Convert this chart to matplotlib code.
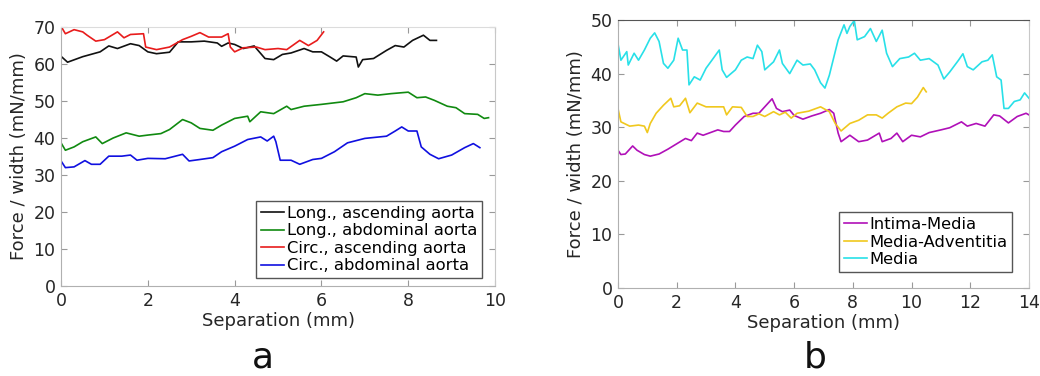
import matplotlib.pyplot as plt

# ---- panel a: peel force per width vs separation ----
long_asc_x = [0, 0.15, 0.5, 0.9, 1.1, 1.3, 1.6, 1.8, 2.0, 2.2, 2.5, 2.7, 3.0, 3.3, 3.6, 3.7, 3.85,
              4.0, 4.2, 4.45, 4.7, 4.9, 5.1, 5.3, 5.6, 5.8, 6.0, 6.2, 6.35, 6.5, 6.8, 6.85, 6.95,
              7.2, 7.5, 7.7, 7.9, 8.1, 8.35, 8.5, 8.65]
long_asc_y = [62.1, 60.5, 62, 63.3, 64.9, 64.2, 65.5, 65, 63.3, 62.8, 63.2, 66, 66, 66.2, 65.7, 64.8, 65.7,
              65.3, 64.2, 64.9, 61.5, 61.2, 62.6, 63, 64.2, 63.3, 63.3, 61.9, 60.8, 62.2, 61.9, 59.2, 61.2,
              61.5, 63.7, 65, 64.6, 66.4, 67.8, 66.4, 66.4]

long_abd_x = [0, 0.1, 0.3, 0.5, 0.8, 0.95, 1.2, 1.5, 1.8, 2.0, 2.3, 2.5, 2.8, 3.0, 3.2, 3.5, 3.7, 4.0,
              4.3, 4.35, 4.6, 4.9, 5.2, 5.3, 5.6, 6.0, 6.5, 6.8, 7.0, 7.3, 7.6, 8.0, 8.2, 8.4, 8.6,
              8.9, 9.1, 9.3, 9.6, 9.75, 9.85]
long_abd_y = [38.7, 36.7, 37.6, 39, 40.3, 38.5, 40, 41.4, 40.5, 40.8, 41.2, 42.3, 45, 44.1, 42.6, 42.1, 43.5, 45.3,
              45.9, 44.4, 47.1, 46.6, 48.6, 47.7, 48.6, 49.1, 49.8, 50.9, 52, 51.6, 52, 52.4, 50.9, 51.1, 50.2,
              48.6, 48.2, 46.6, 46.4, 45.3, 45.5]

circ_asc_x = [0, 0.1, 0.3, 0.5, 0.6, 0.8, 1.0, 1.3, 1.45, 1.6, 1.9, 1.95, 2.2, 2.5, 2.8, 3.0, 3.2, 3.4,
              3.7, 3.85, 3.9, 4.0, 4.2, 4.5, 4.7, 5.0, 5.2, 5.5, 5.7, 5.9, 6.05]
circ_asc_y = [70.2, 68.2, 69.3, 68.7, 67.8, 66.2, 66.6, 68.7, 67.1, 68, 68.2, 64.6, 63.9, 64.6, 66.6, 67.5, 68.5, 67.3,
              67.3, 68.2, 64.6, 63.3, 64.4, 64.6, 63.9, 64.2, 63.9, 66.4, 65, 66.4, 68.7]

circ_abd_x = [0, 0.1, 0.3, 0.55, 0.7, 0.9, 1.1, 1.4, 1.6, 1.75, 2.0, 2.4, 2.8, 2.95, 3.2, 3.5, 3.7, 4.0,
              4.3, 4.6, 4.75, 4.9, 4.95, 5.05, 5.3, 5.5, 5.8, 6.0, 6.3, 6.6, 7.0, 7.5, 7.7, 7.85, 8.0,
              8.2, 8.3, 8.5, 8.7, 9.0, 9.3, 9.5, 9.65]
circ_abd_y = [33.8, 32, 32.2, 33.9, 32.9, 32.9, 35.1, 35.1, 35.4, 34, 34.5, 34.4, 35.6, 33.8, 34.2, 34.7, 36.3, 37.8,
              39.6, 40.3, 39.2, 40.5, 39, 34, 34, 32.9, 34.2, 34.5, 36.3, 38.7, 39.9, 40.5, 41.9, 43, 41.9,
              41.9, 37.6, 35.6, 34.4, 35.4, 37.4, 38.5, 37.4]

# ---- panel b: layers ----
intima_x = [0, 0.1, 0.25, 0.5, 0.65, 0.9, 1.1, 1.4, 1.7, 2.0, 2.3, 2.5, 2.7, 2.9, 3.1, 3.4, 3.6, 3.8,
            4.0, 4.3, 4.6, 4.8, 5.0, 5.25, 5.4, 5.6, 5.85, 6.0, 6.3, 6.6, 6.9, 7.2, 7.35, 7.5, 7.6,
            7.9, 8.2, 8.5, 8.9, 9.0, 9.3, 9.5, 9.7, 10.0, 10.3, 10.6, 11.0, 11.3, 11.7, 11.9, 12.2,
            12.5, 12.8, 13.0, 13.3, 13.6, 13.9, 14.0]
intima_y = [25.7, 24.9, 25, 26.5, 25.7, 24.9, 24.6, 25, 25.9, 26.9, 27.9, 27.5, 28.9, 28.5, 28.9, 29.5, 29.2, 29.2,
            30.4, 32, 32.6, 32.6, 33.8, 35.3, 33.5, 32.9, 33.2, 32.2, 31.5, 32.1, 32.6, 33.3, 32.6, 28.9, 27.3,
            28.5, 27.3, 27.6, 28.9, 27.3, 27.9, 28.9, 27.3, 28.5, 28.2, 29, 29.5, 29.9, 31, 30.2, 30.7,
            30.2, 32.3, 32.1, 30.8, 32, 32.6, 32.3]

adventitia_x = [0, 0.1, 0.4, 0.7, 0.9, 1.0, 1.1, 1.3, 1.55, 1.8, 1.9, 2.1, 2.3, 2.45, 2.7, 3.0, 3.3, 3.6,
                3.7, 3.9, 4.2, 4.4, 4.6, 4.8, 5.0, 5.3, 5.5, 5.7, 5.9, 6.1, 6.5, 6.9, 7.2, 7.4, 7.6,
                7.9, 8.2, 8.5, 8.8, 9.0, 9.2, 9.5, 9.8, 10.0, 10.2, 10.4, 10.5]
adventitia_y = [33.5, 31, 30.2, 30.4, 30.2, 29, 30.7, 32.6, 34.1, 35.4, 33.8, 34, 35.4, 32.7, 34.5, 33.8, 33.8, 33.8,
                32.3, 33.8, 33.7, 32, 32, 32.5, 32, 32.9, 32.3, 32.8, 31.7, 32.6, 33, 33.8, 32.9, 30.7, 29.3,
                30.7, 31.3, 32.3, 32.3, 31.7, 32.6, 33.8, 34.5, 34.4, 35.6, 37.4, 36.6]

media_x = [0, 0.1, 0.3, 0.35, 0.55, 0.7, 0.9, 1.1, 1.25, 1.4, 1.55, 1.7, 1.9, 2.05, 2.2, 2.35, 2.42, 2.6,
           2.8, 3.0, 3.2, 3.45, 3.55, 3.7, 4.0, 4.2, 4.4, 4.6, 4.75, 4.9, 5.0, 5.3, 5.5, 5.6, 5.85,
           6.1, 6.3, 6.55, 6.7, 6.9, 7.05, 7.2, 7.5, 7.7, 7.8, 7.9, 8.05, 8.15, 8.4, 8.6, 8.8, 9.0,
           9.15, 9.35, 9.6, 9.9, 10.1, 10.3, 10.6, 10.9, 11.1, 11.3, 11.6, 11.75, 11.9, 12.1, 12.4,
           12.6, 12.75, 12.9, 13.05, 13.15, 13.3, 13.5, 13.7, 13.85, 14.0]
media_y = [45.6, 42.5, 44.1, 41.6, 43.8, 42.5, 44.4, 46.6, 47.6, 46, 41.9, 41, 42.5, 46.6, 44.4, 44.4, 37.9, 39.4,
           38.8, 41, 42.5, 44.4, 40.7, 39.3, 40.7, 42.5, 43.1, 42.8, 45.3, 44.1, 40.7, 42.2, 44.4, 41.9, 40,
           42.5, 41.6, 41.8, 40.7, 38.3, 37.3, 39.7, 46.3, 49.1, 47.5, 48.8, 49.9, 46.3, 46.9, 48.4, 46, 48.1,
           43.8, 41.3, 42.8, 43.1, 43.8, 42.5, 42.8, 41.6, 39, 40.3, 42.5, 43.7, 41.3, 40.7, 42.2,
           42.5, 43.5, 39.4, 38.8, 33.5, 33.5, 34.8, 35.1, 36.4, 35.4]

TXT = '#262626'
fig = plt.figure(figsize=(10.4, 3.76), dpi=100)
ax1 = fig.add_axes([0.0587, 0.2394, 0.4173, 0.6886])
ax2 = fig.add_axes([0.5942, 0.234, 0.3952, 0.7128])


def style_axes(ax, top_color):
    for side in ['left', 'bottom', 'right']:
        ax.spines[side].set_color('#c8c8c8')
    ax.spines['top'].set_color(top_color)
    ax.spines['left'].set_color('#b0b0b0')
    ax.spines['bottom'].set_color('#b0b0b0')
    ax.tick_params(direction='in', length=4, width=0.8, color='#999999',
                   top=True, right=True, labelsize=12.5, labelcolor=TXT, pad=4)
    ax.set_xlabel('Separation (mm)', fontsize=13, color=TXT, labelpad=2)
    ax.set_ylabel('Force / width (mN/mm)', fontsize=13, color=TXT, labelpad=4)


lw = 1.2
ax1.plot(long_asc_x, long_asc_y, color='#111111', lw=lw, label='Long., ascending aorta')
ax1.plot(long_abd_x, long_abd_y, color='#108a10', lw=lw, label='Long., abdominal aorta')
ax1.plot(circ_asc_x, circ_asc_y, color='#e81c1c', lw=lw, label='Circ., ascending aorta')
ax1.plot(circ_abd_x, circ_abd_y, color='#1010e0', lw=lw, label='Circ., abdominal aorta')
ax1.set_xlim(0, 10)
ax1.set_ylim(0, 70)
ax1.set_xticks(range(0, 11, 2))
ax1.set_yticks(range(0, 71, 10))
style_axes(ax1, '#dcdcdc')
ax1.legend(loc='lower right', bbox_to_anchor=(0.97, 0.03), fontsize=11.8, fancybox=False,
           edgecolor='#555555', framealpha=1, handlelength=1.4, handletextpad=0.15,
           labelspacing=0.15, borderpad=0.3, borderaxespad=0)

ax2.plot(intima_x, intima_y, color='#b010b8', lw=lw, label='Intima-Media')
ax2.plot(adventitia_x, adventitia_y, color='#f0c81e', lw=lw, label='Media-Adventitia')
ax2.plot(media_x, media_y, color='#28e0e8', lw=lw, label='Media')
ax2.set_xlim(0, 14)
ax2.set_ylim(0, 50)
ax2.set_xticks(range(0, 15, 2))
ax2.set_yticks(range(0, 51, 10))
style_axes(ax2, '#555555')
ax2.legend(loc='lower right', bbox_to_anchor=(0.959, 0.06), fontsize=11.8, fancybox=False,
           edgecolor='#555555', framealpha=1, handlelength=1.4, handletextpad=0.15,
           labelspacing=0.15, borderpad=0.3, borderaxespad=0)

fig.text(0.253, 0.004, 'a', fontsize=26, color='#111111', ha='center', va='bottom')
fig.text(0.784, 0.004, 'b', fontsize=26, color='#111111', ha='center', va='bottom')

fig.savefig('out.png', dpi=100)
